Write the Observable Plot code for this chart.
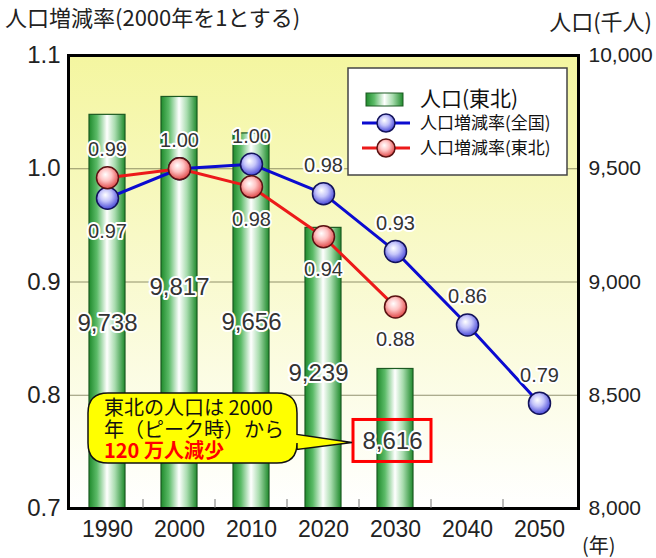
<!DOCTYPE html>
<html><head><meta charset="utf-8">
<script src="https://cdn.jsdelivr.net/npm/d3@7"></script>
<script src="https://cdn.jsdelivr.net/npm/@observablehq/plot@0.6"></script>
<style>
body{margin:0;background:#fff;}
#wrap{position:relative;width:656px;height:558px;overflow:hidden;}
</style></head><body>
<div id="wrap"></div>
<script>
// ---- data ----
const years = [1990, 2000, 2010, 2020, 2030, 2040, 2050];
const popYears = [1990, 2000, 2010, 2020, 2030];
const popTohoku = [9738, 9817, 9656, 9239, 8616];          // 人口(東北) 千人
const rateNational = [0.974, 1.0, 1.004, 0.978, 0.927, 0.862, 0.793]; // 人口増減率(全国)
const rateTohoku = [0.992, 1.0, 0.984, 0.940, 0.878];     // 人口増減率(東北)
const leftTicks = [0.7, 0.8, 0.9, 1.0, 1.1];
const rightTicks = [8000, 8500, 9000, 9500, 10000];
const gridTicks = [0.8, 0.9, 1.0];
const rateDomain = [0.7, 1.1];
const popDomain = [8000, 10000];
const titleLeft = "人口増減率(2000年を1とする)";
const titleRight = "人口(千人)";
const xUnit = "(年)";
const legendLabels = ["人口(東北)", "人口増減率(全国)", "人口増減率(東北)"];
const calloutLines = ["東北の人口は 2000", "年（ピーク時）から", "120 万人減少"];

// ---- style / layout ----
const barLabelOffsets = [[0, 208], [0, 190], [0, 189], [-5, 145], [-3, 72]];
const NUM_FONT = "'Liberation Sans', Arial, sans-serif";
const JP_FONT = "'Noto Sans CJK JP', sans-serif";

const toRatio = p => rateDomain[0] + (p - popDomain[0]) / (popDomain[1] - popDomain[0]) * (rateDomain[1] - rateDomain[0]);

const bars = popYears.map((year, i) => ({year, pop: popTohoku[i]}));
const nat = years.map((year, i) => ({year, v: rateNational[i]}));
const toh = popYears.map((year, i) => ({year, v: rateTohoku[i]}));

// label placement rule: higher series above, lower series below, equal -> one label above
const labelsAbove = [], labelsBelow = [];
years.forEach((year, i) => {
  const n = rateNational[i], t = rateTohoku[i];
  if (t === undefined || n >= t) labelsAbove.push({year, v: n}); else labelsBelow.push({year, v: n});
  if (t !== undefined) {
    if (t > n) labelsAbove.push({year, v: t});
    else if (t < n) labelsBelow.push({year, v: t});
  }
});
const fmt2 = d3.format(".2f");

const barLabelMarks = bars.map((d, i) => Plot.text([d], {
  x: "year", y: b => toRatio(b.pop), text: b => d3.format(",")(b.pop),
  dx: barLabelOffsets[i][0], dy: barLabelOffsets[i][1],
  fontSize: 24, fill: "#333", stroke: "white", strokeWidth: 4, fontFamily: NUM_FONT
}));

const plot = Plot.plot({
  width: 656, height: 558,
  marginTop: 55, marginBottom: 50, marginLeft: 68, marginRight: 78,
  x: {type: "band", domain: years, paddingInner: 0.5, paddingOuter: 0.25, label: null},
  y: {domain: rateDomain, label: null},
  style: {fontFamily: NUM_FONT, color: "#222", background: "transparent"},
  marks: [
    Plot.frame({fill: "url(#bgGrad)", stroke: "none"}),
    Plot.gridY(gridTicks, {stroke: "#6e6e48", strokeOpacity: 0.75, strokeWidth: 1}),
    Plot.barY(bars, {x: "year", y1: rateDomain[0], y2: d => toRatio(d.pop), fill: "url(#barGrad)", stroke: "#1c5a22", strokeWidth: 1.2}),
    ...barLabelMarks,
    Plot.line(nat, {x: "year", y: "v", stroke: "#0b0bd0", strokeWidth: 3}),
    Plot.line(toh, {x: "year", y: "v", stroke: "#ec1a1a", strokeWidth: 3}),
    Plot.dot(nat, {x: "year", y: "v", r: 11, fill: "url(#blueGrad)", stroke: "#12125a", strokeWidth: 1.5}),
    Plot.dot(toh, {x: "year", y: "v", r: 11, fill: "url(#redGrad)", stroke: "#5a1212", strokeWidth: 1.5}),
    Plot.text(labelsAbove, {x: "year", y: "v", text: d => fmt2(d.v), dy: -28, fontSize: 20, fill: "#333", stroke: "white", strokeWidth: 4, fontFamily: NUM_FONT}),
    Plot.text(labelsBelow, {x: "year", y: "v", text: d => fmt2(d.v), dy: 33, fontSize: 20, fill: "#333", stroke: "white", strokeWidth: 4, fontFamily: NUM_FONT}),
    Plot.axisY(leftTicks, {anchor: "left", tickSize: 0, tickPadding: 8, fontSize: 24, label: null, tickFormat: d3.format(".1f")}),
    Plot.axisY(rightTicks.map(toRatio), {anchor: "right", tickSize: 0, tickPadding: 10, fontSize: 21, label: null, tickFormat: (d, i) => d3.format(",")(rightTicks[i])}),
    Plot.axisX({tickSize: 0, tickPadding: 12, fontSize: 23, label: null, tickFormat: d => `${d}`}),
    Plot.frame({stroke: "#000", strokeWidth: 3})
  ]
});

document.getElementById("wrap").appendChild(plot);
const svg = d3.select(plot);

// gradients
const defs = svg.insert("defs", ":first-child");
function lin(id, horiz, stops) {
  const g = defs.append("linearGradient").attr("id", id)
    .attr("x1", 0).attr("y1", 0).attr("x2", horiz ? 1 : 0).attr("y2", horiz ? 0 : 1);
  stops.forEach(([o, c]) => g.append("stop").attr("offset", o).attr("stop-color", c));
}
function rad(id, stops) {
  const g = defs.append("radialGradient").attr("id", id).attr("cx", "45%").attr("cy", "40%").attr("r", "60%").attr("fx", "40%").attr("fy", "35%");
  stops.forEach(([o, c]) => g.append("stop").attr("offset", o).attr("stop-color", c));
}
lin("bgGrad", false, [[0, "#f4f6a0"], [0.5, "#f9fad0"], [1, "#ffffff"]]);
lin("barGrad", true, [[0, "#1f8a2c"], [0.22, "#5cbb68"], [0.5, "#ffffff"], [0.72, "#a8dcae"], [1, "#1f8a2c"]]);
rad("blueGrad", [[0, "#ffffff"], [0.45, "#c4c4fa"], [1, "#4848d8"]]);
rad("redGrad", [[0, "#ffffff"], [0.45, "#ffc4c4"], [1, "#e04848"]]);

const xs = plot.scale("x"), ys = plot.scale("y");
const cx = yr => xs.apply(yr) + xs.bandwidth / 2;
const step = xs.step;
const bottom = ys.apply(rateDomain[0]);

// minor ticks at category boundaries
const tg = svg.append("g");
for (let i = 0; i < years.length - 1; i++) {
  const x = cx(years[i]) + step / 2;
  tg.append("line").attr("x1", x).attr("x2", x).attr("y1", bottom - 9).attr("y2", bottom).attr("stroke", "#777").attr("stroke-width", 1);
}

const txt = (x, y, size, anchor, s) => svg.append("text").attr("x", x).attr("y", y)
  .attr("font-family", JP_FONT).attr("font-size", size).attr("text-anchor", anchor).attr("fill", "#222").text(s);

// titles
txt(5, 26, 22, "start", titleLeft);
txt(652, 30, 22, "end", titleRight);
txt(582, 553, 20, "start", xUnit);

// legend
const lg = svg.append("g");
lg.append("rect").attr("x", 348).attr("y", 68).attr("width", 219).attr("height", 107).attr("fill", "#fff").attr("stroke", "#444").attr("stroke-width", 1.5);
lg.append("rect").attr("x", 366).attr("y", 93).attr("width", 37).attr("height", 13).attr("fill", "url(#barGrad)").attr("stroke", "#1c5a22");
txt(420, 106, 21, "start", legendLabels[0]).attr("fill", "#111");
[[123, "#0b0bd0", "url(#blueGrad)", "#12125a", legendLabels[1]], [148, "#ec1a1a", "url(#redGrad)", "#5a1212", legendLabels[2]]].forEach(([y, c, f, s, t]) => {
  lg.append("line").attr("x1", 362).attr("x2", 410).attr("y1", y).attr("y2", y).attr("stroke", c).attr("stroke-width", 3);
  lg.append("circle").attr("cx", 386).attr("cy", y).attr("r", 9).attr("fill", f).attr("stroke", s).attr("stroke-width", 1.5);
  txt(420, y + 6, 17, "start", t).attr("fill", "#111");
});

// red box around the 2030 value
const lastIdx = popYears.length - 1;
const bx = cx(popYears[lastIdx]) + barLabelOffsets[lastIdx][0];
const by = ys.apply(toRatio(popTohoku[lastIdx])) + barLabelOffsets[lastIdx][1];
svg.append("rect").attr("x", bx - 39).attr("y", by - 21).attr("width", 78).attr("height", 42)
  .attr("fill", "none").attr("stroke", "#ff0000").attr("stroke-width", 3);

// callout bubble
const L = 88, R = 297, T = 393, B = 463, r = 20, tipX = bx - 40, tipY = by + 2;
const path = `M${L + r},${T} H${R - r} Q${R},${T} ${R},${T + r} V${tipY - 8} L${tipX},${tipY} L${R},${tipY + 7} V${B - r} Q${R},${B} ${R - r},${B} H${L + r} Q${L},${B} ${L},${B - r} V${T + r} Q${L},${T} ${L + r},${T} Z`;
svg.append("path").attr("d", path).attr("fill", "#ffff00").attr("stroke", "#111").attr("stroke-width", 1.5);
calloutLines.forEach((t, i) => {
  txt(104, 415 + i * 21.5, 20, "start", t)
    .attr("font-weight", i === 2 ? "bold" : "normal")
    .attr("fill", i === 2 ? "#ff0000" : "#111");
});
</script>
</body></html>
